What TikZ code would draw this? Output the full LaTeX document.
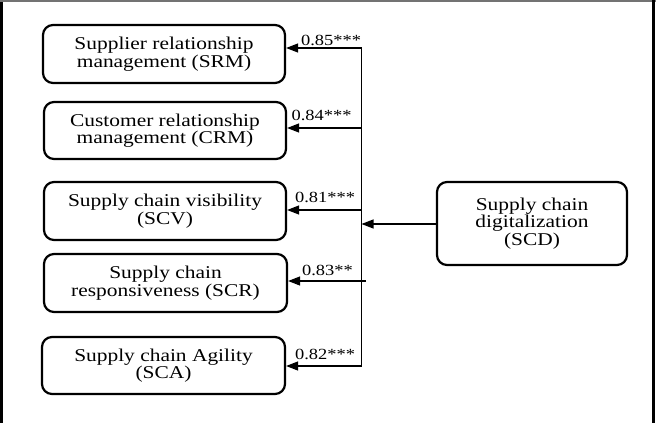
\documentclass[tikz,border=0pt]{standalone}
\usepackage{fontspec}
\setmainfont{Liberation Serif}[FakeStretch=1.19]
\usetikzlibrary{arrows.meta}

\begin{document}
\begin{tikzpicture}[
      x=1pt, y=-1pt,
      construct/.style={draw, line width=2.2pt, rounded corners=10pt,
        align=center, inner sep=0pt, font=\fontsize{18}{17.6}\selectfont},
      path/.style={line width=1.2pt, -{Triangle[length=12pt,width=9pt]}},
      loading/.style={inner sep=0pt, font=\fontsize{15.5}{16}\selectfont}
    ]
    \useasboundingbox (0,0) rectangle (656,423);
    % frame
    \draw[line width=3pt] (1.5,0) -- (1.5,423);
    \draw[line width=2pt, black!55] (0,1) -- (656,1);
    \draw[line width=2.5pt] (653.5,0) -- (653.5,423);

    % constructs
    \node[construct, minimum width=242, minimum height=58] (srm) at (164,54)
      {Supplier relationship\\management (SRM)};
    \node[construct, minimum width=242, minimum height=57] (crm) at (165,130.5)
      {Customer relationship\\management (CRM)};
    \node[construct, minimum width=242, minimum height=58] (scv) at (165,211)
      {Supply chain visibility\\(SCV)};
    \node[construct, minimum width=243, minimum height=58] (scr) at (165.5,283)
      {Supply chain\\responsiveness (SCR)};
    \node[construct, minimum width=243, minimum height=57] (sca) at (163.5,365.5)
      {Supply chain Agility\\(SCA)};
    \node[construct, minimum width=190, minimum height=83] (scd) at (532,223.5)
      {Supply chain\\digitalization\\(SCD)};

    % trunk
    \coordinate (top) at (361.5,47);
    \coordinate (bottom) at (361.5,366.5);
    \coordinate (b1) at (361.5,48);
    \coordinate (b2) at (361.5,128);
    \coordinate (b3) at (361.5,210);
    \coordinate (b4) at (366,281);
    \coordinate (b5) at (361.5,366);
    \coordinate (hub) at (361.5,224);
    \draw[line width=1.2pt] (top) -- (bottom);

    \draw[path] (scd.west |- hub) -- (hub);
    \draw[path] (b1) -- (b1 -| srm.east);
    \draw[path] (b2) -- (b2 -| crm.east);
    \draw[path] (b3) -- (b3 -| scv.east);
    \draw[path] (b4) -- (b4 -| scr.east);
    \draw[path] (b5) -- (b5 -| sca.east);

    % loadings
    \node[loading] (l1) at (331,40) {0.85***};
    \node[loading] (l2) at (321.5,115) {0.84***};
    \node[loading] (l3) at (325,197.5) {0.81***};
    \node[loading] (l4) at (327.5,270) {0.83**};
    \node[loading] (l5) at (325,354) {0.82***};
\end{tikzpicture}
\end{document}
